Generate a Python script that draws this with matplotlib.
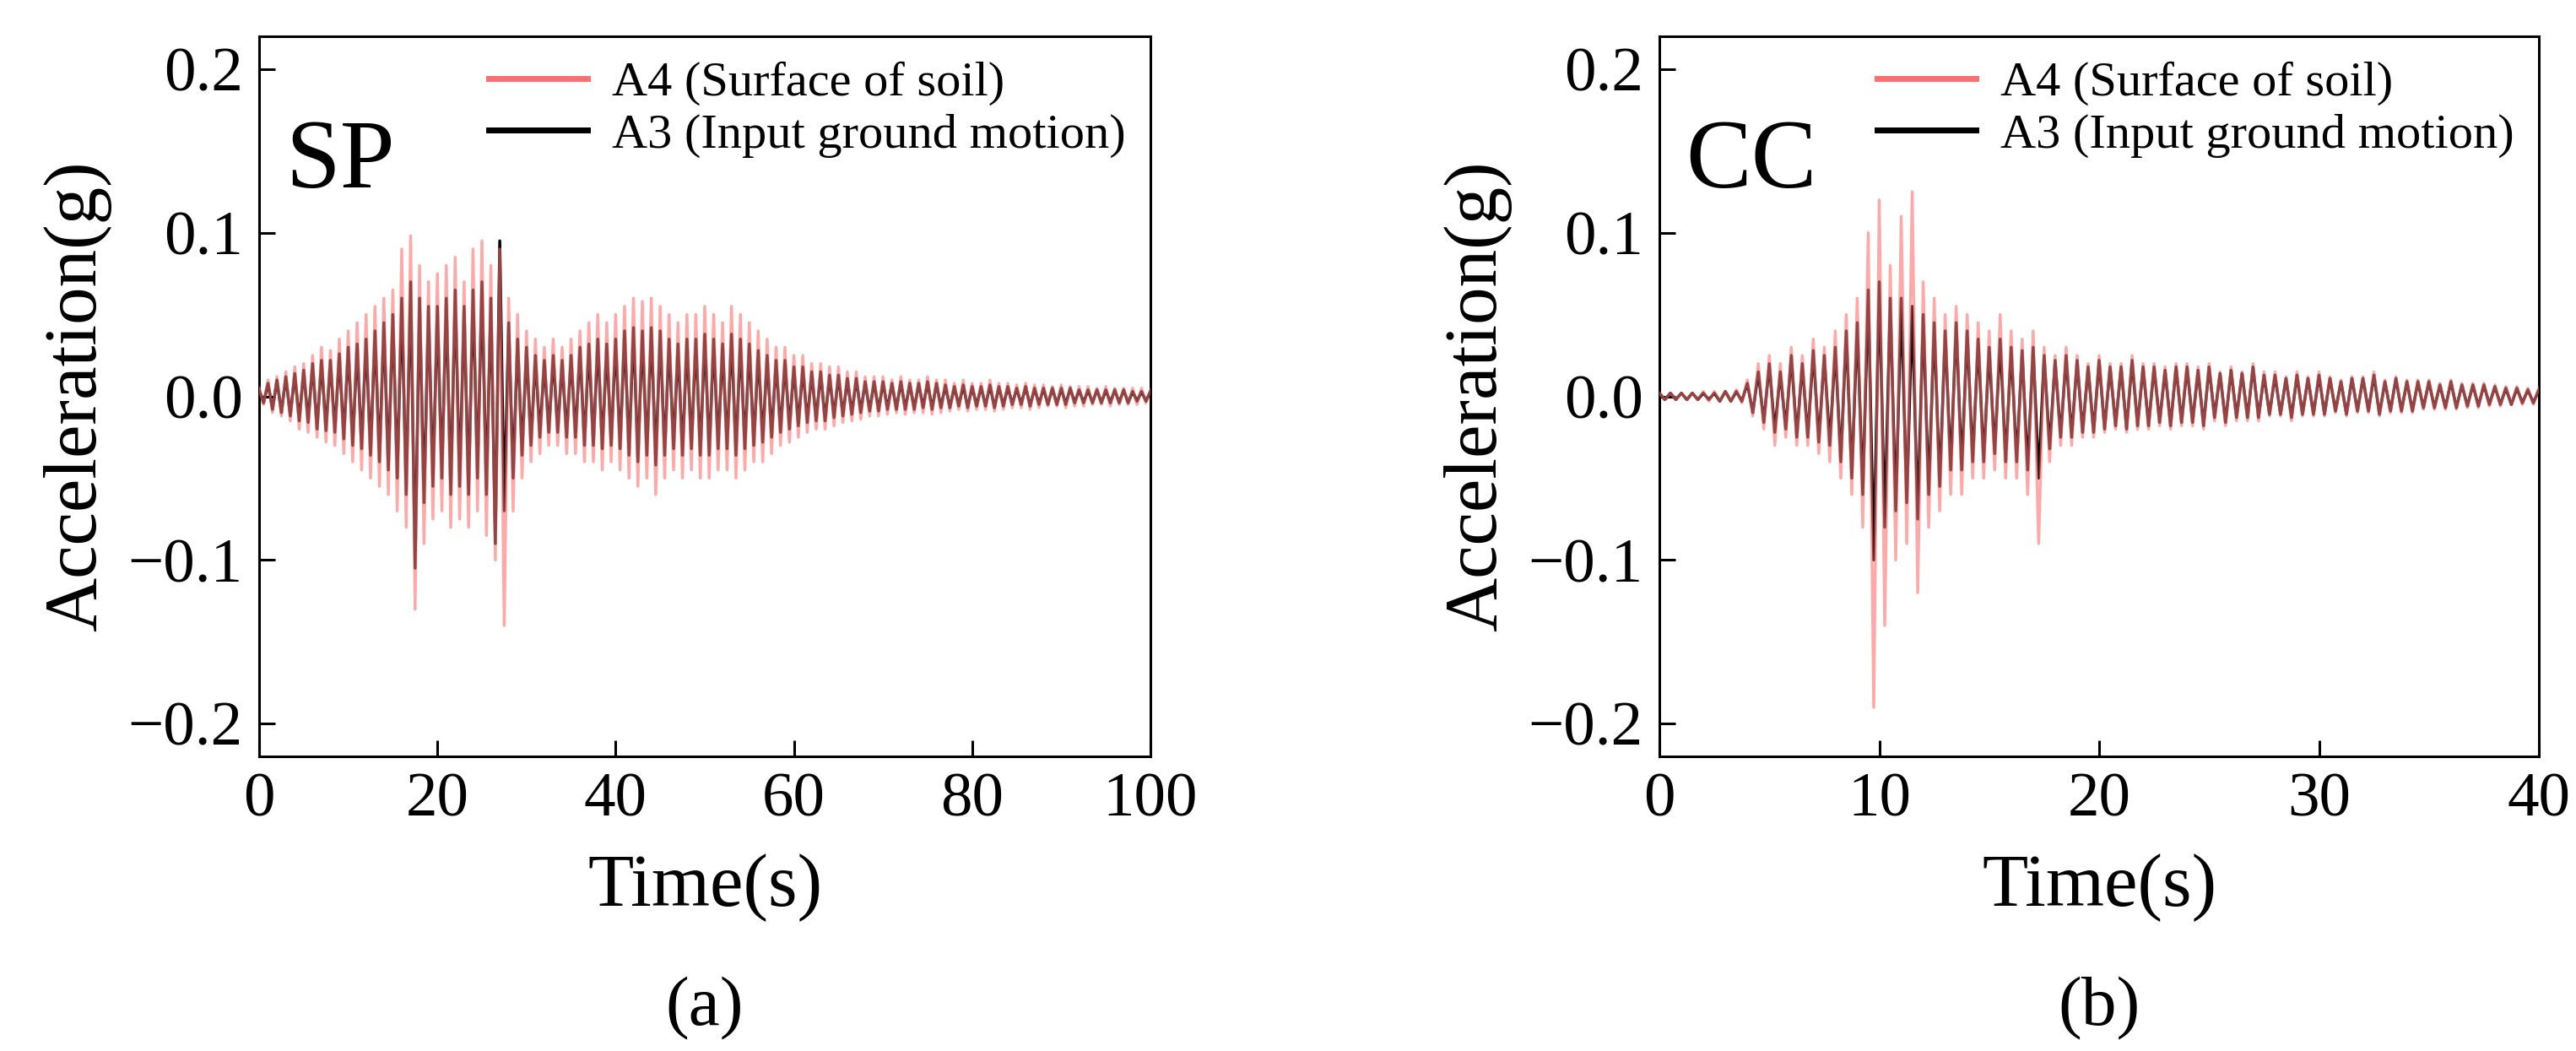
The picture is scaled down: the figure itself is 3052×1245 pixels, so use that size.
import matplotlib
matplotlib.use("Agg")
import matplotlib.pyplot as plt
import numpy as np

plt.rcParams["font.family"] = "Liberation Serif"

# ---- SP record (1 s envelope peaks) ----
sp_time = list(range(0, 101))
sp_a4_up = [.005,.01,.012,.015,.018,.02,.025,.03,.028,.035,
            .04,.045,.05,.055,.06,.065,.09,.098,.08,.07,
            .075,.08,.085,.07,.09,.095,.08,.09,.06,.05,
            .04,.035,.03,.035,.03,.035,.04,.045,.05,.045,
            .05,.055,.06,.058,.06,.055,.05,.045,.05,.05,
            .055,.05,.045,.055,.05,.045,.04,.035,.03,.03,
            .025,.025,.02,.02,.018,.018,.015,.015,.012,.012,
            .012,.01,.012,.01,.01,.012,.01,.01,.008,.01,
            .008,.008,.01,.008,.008,.007,.008,.007,.007,.006,
            .007,.006,.006,.006,.005,.006,.005,.005,.005,.005,.004]
sp_a4_low = [-.005,-.01,-.012,-.015,-.02,-.022,-.025,-.028,-.03,-.035,
             -.04,-.045,-.05,-.055,-.06,-.07,-.08,-.13,-.09,-.075,
             -.07,-.08,-.075,-.08,-.07,-.085,-.1,-.14,-.07,-.05,
             -.04,-.035,-.03,-.03,-.035,-.035,-.04,-.04,-.045,-.04,
             -.045,-.05,-.055,-.05,-.06,-.05,-.045,-.05,-.045,-.05,
             -.05,-.045,-.045,-.05,-.045,-.04,-.04,-.035,-.03,-.028,
             -.025,-.022,-.02,-.02,-.018,-.016,-.015,-.014,-.012,-.012,
             -.011,-.01,-.011,-.01,-.01,-.011,-.01,-.009,-.008,-.009,
             -.008,-.008,-.009,-.008,-.007,-.007,-.008,-.007,-.006,-.006,
             -.007,-.006,-.006,-.005,-.005,-.006,-.005,-.005,-.005,-.004,-.004]
sp_a3_up = [.004,.008,.01,.012,.014,.016,.02,.022,.022,.026,
            .03,.032,.035,.04,.045,.05,.06,.07,.06,.055,
            .055,.06,.065,.055,.065,.07,.06,.095,.045,.035,
            .03,.025,.022,.025,.022,.025,.03,.032,.035,.032,
            .035,.04,.042,.04,.042,.04,.035,.032,.035,.035,
            .038,.035,.032,.038,.035,.032,.028,.025,.022,.022,
            .018,.018,.015,.015,.013,.013,.011,.011,.009,.009,
            .009,.008,.009,.008,.008,.009,.008,.007,.006,.007,
            .006,.006,.007,.006,.006,.005,.006,.005,.005,.005,
            .005,.005,.004,.004,.004,.004,.004,.004,.003,.003,.003]
sp_a3_low = [-.004,-.008,-.01,-.012,-.015,-.016,-.02,-.021,-.022,-.026,
             -.03,-.032,-.036,-.04,-.045,-.05,-.06,-.105,-.065,-.055,
             -.05,-.06,-.055,-.06,-.05,-.06,-.09,-.07,-.05,-.036,
             -.03,-.025,-.022,-.022,-.025,-.025,-.03,-.03,-.032,-.03,
             -.032,-.036,-.04,-.036,-.042,-.036,-.032,-.036,-.032,-.036,
             -.036,-.032,-.032,-.036,-.032,-.03,-.028,-.025,-.022,-.02,
             -.018,-.016,-.015,-.015,-.013,-.012,-.011,-.01,-.009,-.009,
             -.008,-.008,-.008,-.008,-.007,-.008,-.007,-.007,-.006,-.007,
             -.006,-.006,-.007,-.006,-.005,-.005,-.006,-.005,-.005,-.005,
             -.005,-.004,-.004,-.004,-.004,-.004,-.004,-.004,-.003,-.003,-.003]

# ---- CC record (0.5 s envelope peaks) ----
cc_time = [i * 0.5 for i in range(81)]
cc_a4_up = [.002,.002,.002,.002,.003,.003,.003,.004,
            .01,.02,.025,.02,.03,.025,.035,.03,
            .04,.05,.06,.1,.12,.08,.11,.125,
            .07,.06,.05,.055,.05,.045,.04,.05,
            .04,.035,.04,.03,.025,.03,.025,.02,
            .025,.02,.02,.025,.02,.02,.018,.02,
            .02,.018,.02,.015,.018,.015,.02,.015,
            .015,.012,.015,.012,.015,.012,.01,.012,
            .012,.015,.01,.012,.01,.01,.01,.008,
            .01,.008,.008,.008,.007,.006,.006,.005,.005]
cc_a4_low = [-.002,-.002,-.002,-.002,-.003,-.003,-.003,-.004,
             -.012,-.02,-.03,-.025,-.03,-.03,-.035,-.04,
             -.05,-.06,-.08,-.19,-.14,-.1,-.09,-.12,
             -.08,-.07,-.06,-.06,-.05,-.05,-.045,-.05,
             -.05,-.06,-.09,-.04,-.03,-.03,-.025,-.025,
             -.022,-.02,-.022,-.02,-.02,-.018,-.02,-.018,
             -.018,-.02,-.015,-.018,-.015,-.015,-.015,-.012,
             -.012,-.015,-.012,-.012,-.012,-.01,-.012,-.01,
             -.01,-.012,-.01,-.01,-.01,-.008,-.008,-.008,
             -.008,-.007,-.007,-.006,-.006,-.005,-.005,-.005,-.004]
cc_a3_up = [.002,.002,.002,.002,.002,.002,.003,.003,
            .008,.015,.02,.015,.025,.02,.028,.025,
            .03,.04,.045,.065,.07,.06,.06,.055,
            .05,.045,.04,.045,.04,.035,.03,.035,
            .03,.028,.03,.025,.022,.025,.022,.018,
            .022,.018,.018,.022,.018,.018,.016,.018,
            .018,.016,.018,.014,.016,.014,.018,.013,
            .013,.011,.013,.011,.013,.011,.009,.011,
            .011,.013,.009,.011,.009,.009,.009,.007,
            .009,.007,.007,.007,.006,.005,.005,.004,.004]
cc_a3_low = [-.002,-.002,-.002,-.002,-.002,-.003,-.003,-.003,
             -.01,-.016,-.022,-.02,-.025,-.025,-.028,-.03,
             -.04,-.05,-.06,-.1,-.08,-.07,-.065,-.075,
             -.06,-.055,-.045,-.045,-.04,-.04,-.035,-.04,
             -.04,-.045,-.05,-.032,-.025,-.025,-.022,-.022,
             -.02,-.018,-.02,-.018,-.018,-.016,-.018,-.016,
             -.016,-.018,-.013,-.016,-.013,-.013,-.013,-.011,
             -.011,-.013,-.011,-.011,-.011,-.009,-.011,-.009,
             -.009,-.011,-.009,-.009,-.009,-.007,-.007,-.007,
             -.007,-.006,-.006,-.005,-.005,-.005,-.004,-.004,-.004]

A4_COLOR = "#ff6f6f"
A3_COLOR = "black"


def zigzag(t, up, low):
    t = np.asarray(t, float)
    dt = t[1] - t[0]
    xs = np.empty(2 * len(t))
    ys = np.empty(2 * len(t))
    xs[0::2] = t
    xs[1::2] = t + dt / 2
    ys[0::2] = up
    ys[1::2] = low
    m = xs <= t[-1]
    return xs[m], ys[m]


W, H = 3052, 1245
fig = plt.figure(figsize=(W / 100, H / 100), dpi=100)
ax1 = fig.add_axes([307/W, 1 - 896/H, 1056/W, 853/H])
ax2 = fig.add_axes([1966/W, 1 - 896/H, 1042/W, 853/H])

panels = [
    (ax1, sp_time, sp_a4_up, sp_a4_low, sp_a3_up, sp_a3_low, "SP", 100, [0, 20, 40, 60, 80, 100], "(a)"),
    (ax2, cc_time, cc_a4_up, cc_a4_low, cc_a3_up, cc_a3_low, "CC", 40, [0, 10, 20, 30, 40], "(b)"),
]
for ax, t, a4u, a4l, a3u, a3l, name, xmax, xt, lab in panels:
    x3, y3 = zigzag(t, a3u, a3l)
    x4, y4 = zigzag(t, a4u, a4l)
    ax.plot(x3, y3, color=A3_COLOR, lw=2.5, zorder=2)
    ax.plot(x4, y4, color=A4_COLOR, lw=2.5, alpha=0.6, zorder=3)
    h4, = ax.plot([], [], color=A4_COLOR, lw=5)
    h3, = ax.plot([], [], color=A3_COLOR, lw=5)
    ax.legend([h4, h3], ["A4 (Surface of soil)", "A3 (Input ground motion)"],
              loc="upper right", frameon=False, fontsize=42, handlelength=2.0,
              borderaxespad=0.1, labelspacing=0.15, handletextpad=0.5)
    ax.text(0.03, 0.79, name, transform=ax.transAxes, fontsize=84)
    ax.set_xlim(0, xmax)
    ax.set_ylim(-0.22, 0.22)
    ax.set_xticks(xt)
    ax.set_yticks([-0.2, -0.1, 0.0, 0.1, 0.2])
    ax.set_yticklabels(["\u22120.2", "\u22120.1", "0.0", "0.1", "0.2"])
    ax.tick_params(direction="in", labelsize=54, length=14, width=2.2, pad=14)
    ax.set_xlabel("Time(s)", fontsize=64, labelpad=20)
    ax.set_ylabel("Acceleration(g)", fontsize=64, labelpad=14)
    for s in ax.spines.values():
        s.set_linewidth(2.2)
    cx = ax.get_position().x0 + ax.get_position().width / 2
    fig.text(cx, 1 - 1195/H, lab, ha="center", va="center", fontsize=60)

fig.savefig("out.png", dpi=100)
